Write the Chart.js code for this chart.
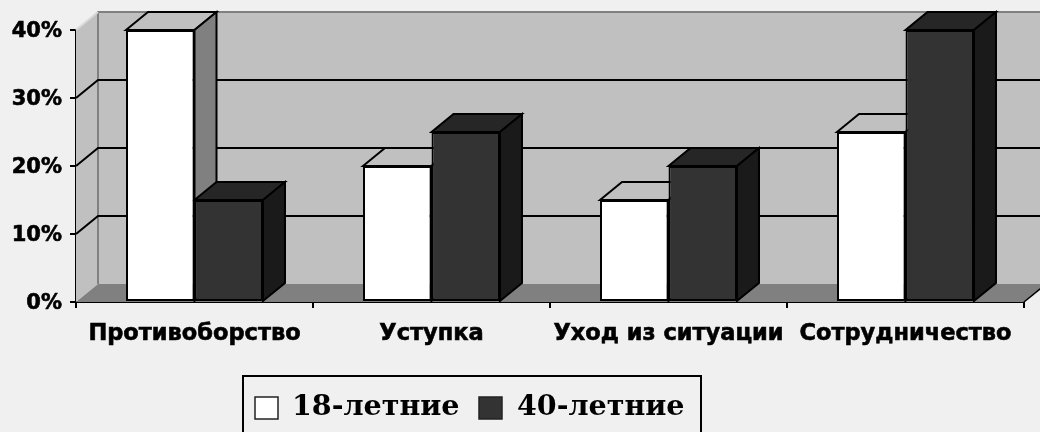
<!DOCTYPE html>
<html lang="ru">
<head>
    <meta charset="UTF-8">
    <title>Стратегии поведения</title>
    <script src="https://cdn.jsdelivr.net/npm/chart.js"></script>
    <style>
        html, body { margin: 0; padding: 0; background: #f0f0f0; overflow: hidden; }
        canvas { display: block; }
    </style>
</head>
<body>
    <canvas id="chart" width="1040" height="432"></canvas>
    <script>
// values
const categories = ["Противоборство", "Уступка", "Уход из ситуации", "Сотрудничество"];
const seriesNames = ["18-летние", "40-летние"];
const values18 = [40, 20, 15, 25];
const values40 = [15, 25, 20, 40];

const front = ["#ffffff", "#333333"];
const topFace = ["#c0c0c0", "#262626"];
const sideFace = ["#808080", "#1a1a1a"];

// depth of the fake 3d box
const dx = 22, dy = -18;

function poly(ctx, pts, fill, stroke, lw) {
    ctx.beginPath();
    pts.forEach((p, i) => i ? ctx.lineTo(p[0], p[1]) : ctx.moveTo(p[0], p[1]));
    ctx.closePath();
    if (fill) { ctx.fillStyle = fill; ctx.fill(); }
    if (stroke) { ctx.strokeStyle = stroke; ctx.lineWidth = lw || 2; ctx.stroke(); }
}

const box3d = {
    id: "box3d",
    beforeDatasetsDraw(chart) {
        const ctx = chart.ctx, y = chart.scales.y, a = chart.chartArea;
        const l = a.left, r = a.right, t = a.top, b = a.bottom;
        ctx.save();

        // walls and floor
        poly(ctx, [[l + dx, t + dy], [r + dx, t + dy], [r + dx, b + dy], [l + dx, b + dy]], "#c0c0c0");
        poly(ctx, [[l, t], [l + dx, t + dy], [l + dx, b + dy], [l, b]], "#c0c0c0");
        poly(ctx, [[l, b], [l + dx, b + dy], [r + dx, b + dy], [r, b]], "#808080");

        ctx.strokeStyle = "#808080";
        ctx.lineWidth = 2;
        ctx.beginPath();
        ctx.moveTo(l + dx, b + dy);
        ctx.lineTo(l + dx, t + dy);
        ctx.lineTo(r + dx, t + dy);
        ctx.stroke();
        ctx.strokeStyle = "#d8d8d8";
        ctx.beginPath();
        ctx.moveTo(l, t);
        ctx.lineTo(l + dx, t + dy);
        ctx.stroke();

        // gridlines on the walls
        ctx.strokeStyle = "#000000";
        y.ticks.forEach(tk => {
            if (tk.value === 40 || tk.value === 0) return;
            const py = y.getPixelForValue(tk.value);
            ctx.lineWidth = 2;
            ctx.beginPath();
            ctx.moveTo(l, py);
            ctx.lineTo(l + dx, py + dy);
            ctx.lineTo(r + dx, py + dy);
            ctx.stroke();
        });

        // end of the floor on the right
        ctx.lineWidth = 1.5;
        ctx.beginPath();
        ctx.moveTo(r, b);
        ctx.lineTo(r + dx, b + dy);
        ctx.stroke();

        // bar tops and sides, left to right
        categories.forEach((c, j) => {
            [0, 1].forEach(i => {
                const bar = chart.getDatasetMeta(i).data[j];
                const x0 = bar.x - bar.width / 2, x1 = bar.x + bar.width / 2;
                poly(ctx, [[x0, bar.y], [x0 + dx, bar.y + dy], [x1 + dx, bar.y + dy], [x1, bar.y]], topFace[i], "#000000");
                poly(ctx, [[x1, bar.y], [x1 + dx, bar.y + dy], [x1 + dx, bar.base + dy], [x1, bar.base]], sideFace[i], "#000000");
            });
        });
        ctx.restore();
    }
};

const boxLegend = {
    id: "boxLegend",
    afterDraw(chart) {
        const ctx = chart.ctx;
        ctx.save();
        ctx.strokeStyle = "#000000";
        ctx.lineWidth = 2;
        ctx.strokeRect(243, 376, 458, 70);
        const marks = [255, 479], texts = [292, 517];
        ctx.font = "bold 28.5px 'DejaVu Serif'";
        ctx.textBaseline = "middle";
        chart.data.datasets.forEach((ds, i) => {
            ctx.fillStyle = front[i];
            ctx.fillRect(marks[i], 397, 23, 22);
            ctx.lineWidth = 1.5;
            ctx.strokeStyle = "#222222";
            ctx.strokeRect(marks[i], 397, 23, 22);
            ctx.fillStyle = "#000000";
            ctx.fillText(ds.label, texts[i], 408);
        });
        ctx.restore();
    }
};

new Chart(document.getElementById("chart"), {
    type: "bar",
    data: {
        labels: categories,
        datasets: [
            { label: seriesNames[0], data: values18, backgroundColor: front[0], borderColor: "#000000", borderWidth: 2, borderSkipped: false },
            { label: seriesNames[1], data: values40, backgroundColor: front[1], borderColor: "#000000", borderWidth: 2, borderSkipped: false }
        ]
    },
    options: {
        responsive: false,
        animation: false,
        devicePixelRatio: 1,
        layout: { autoPadding: false, padding: { left: 0, top: 30, right: 16, bottom: 0 } },
        categoryPercentage: 0.578,
        barPercentage: 1,
        plugins: { legend: { display: false }, tooltip: { enabled: false } },
        scales: {
            x: {
                afterFit(scale) { scale.height = 130; },
                grid: { drawOnChartArea: false, color: "#000000", lineWidth: 2, tickLength: 6 },
                border: { color: "#000000", width: 2 },
                ticks: {
                    color: "#000000",
                    autoSkip: false,
                    maxRotation: 0,
                    padding: 13,
                    textStrokeColor: "#000000",
                    textStrokeWidth: 0.6,
                    font: { family: "'DejaVu Sans'", weight: "bold", size: 22.5 }
                }
            },
            y: {
                min: 0,
                max: 40,
                afterFit(scale) { scale.width = 76; },
                grid: { drawOnChartArea: false, color: "#000000", lineWidth: 2, tickLength: 6 },
                border: { color: "#000000", width: 2 },
                ticks: {
                    stepSize: 10,
                    color: "#000000",
                    padding: 8,
                    labelOffset: 2,
                    textStrokeColor: "#000000",
                    textStrokeWidth: 0.6,
                    font: { family: "'DejaVu Sans'", weight: "bold", size: 21 },
                    callback: v => v + "%"
                }
            }
        }
    },
    plugins: [box3d, boxLegend]
});
    </script>
</body>
</html>
